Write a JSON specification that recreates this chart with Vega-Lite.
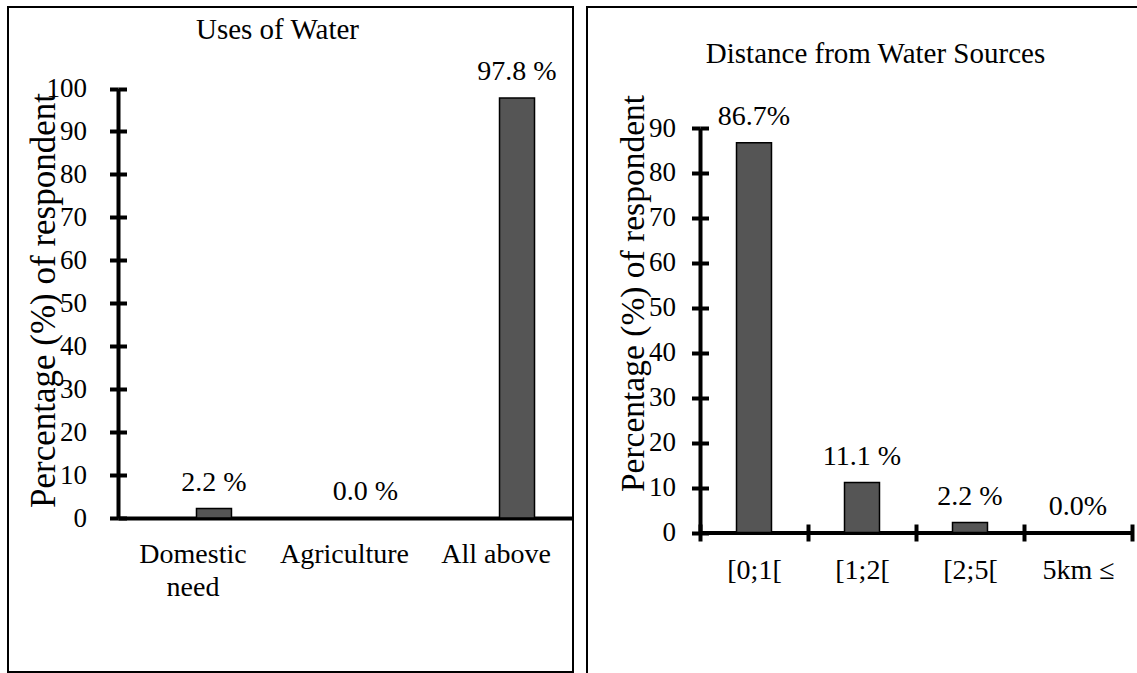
{
  "$schema": "https://vega.github.io/schema/vega-lite/v6.json",
  "padding": {"left": 7, "top": 6, "right": 0, "bottom": 0},
  "background": "white",
  "spacing": 12,
  "config": {
    "view": {"stroke": "black", "strokeWidth": 2},
    "font": "Liberation Serif",
    "text": {"font": "Liberation Serif"},
    "axis": {"labelFont": "Liberation Serif", "titleFont": "Liberation Serif", "labelColor": "black", "titleColor": "black", "domainColor": "black", "tickColor": "black", "grid": false, "titleFontWeight": "normal"},
    "title": {"font": "Liberation Serif", "fontWeight": "normal", "color": "black"}
  },
  "hconcat": [
    {
      "width": 565,
      "height": 665,
      "title": {"text": "Uses of Water", "fontSize": 29, "anchor": "middle", "frame": "group", "baseline": "top", "offset": -37.5, "dx": -13},
      "data": {"values": [
        {"use": "Domestic need", "pct": 2.2, "label": "2.2 %"},
        {"use": "Agriculture", "pct": 0.0, "label": "0.0 %"},
        {"use": "All above", "pct": 97.8, "label": "97.8 %"}
      ]},
      "layer": [
        {
          "mark": {"type": "bar", "fill": "#555555", "stroke": "black", "strokeWidth": 1.5},
          "encoding": {
            "x": {"field": "use", "type": "nominal", "sort": null,
              "scale": {"range": [110, 565], "paddingInner": 0.769, "paddingOuter": 0.386, "align": 0.671},
              "axis": {"orient": "bottom", "offset": -154, "ticks": false, "domainWidth": 4, "labelFont": "Liberation Serif", "labelFontSize": 28, "labelPadding": 22, "labelOffset": -21, "labelAngle": 0, "labelBaseline": "top", "labelLineHeight": 33, "title": null,
                "labelExpr": "datum.value == 'Domestic need' ? ['Domestic', 'need'] : datum.label"}},
            "y": {"field": "pct", "type": "quantitative",
              "scale": {"domain": [0, 100], "range": [511, 81.5], "nice": false, "zero": true},
              "axis": {"orient": "left", "offset": -110, "values": [0, 10, 20, 30, 40, 50, 60, 70, 80, 90, 100], "domainWidth": 4, "tickWidth": 4, "tickSize": 8.5, "labelFont": "Liberation Serif", "labelFontSize": 27, "labelPadding": 23, "labelFlush": false, "labelOverlap": false,
                "title": "Percentage (%) of respondent", "titleFont": "Liberation Serif", "titleFontSize": 35, "titleX": -75, "titleY": 293, "titleAngle": 270, "titleAlign": "center", "titleBaseline": "middle"}}
          }
        },
        {
          "mark": {"type": "text", "dy": -18, "fontSize": 28, "font": "Liberation Serif", "baseline": "alphabetic", "color": "black"},
          "encoding": {
            "x": {"field": "use", "type": "nominal", "sort": null},
            "y": {"field": "pct", "type": "quantitative",
              "axis": {"orient": "right", "offset": -455, "values": [0, 10, 20, 30, 40, 50, 60, 70, 80, 90, 100], "domain": false, "labels": false, "tickWidth": 4, "tickSize": 8.5, "title": null}},
            "text": {"field": "label"}
          }
        }
      ],
      "resolve": {"axis": {"y": "independent"}}
    },
    {
      "width": 553,
      "height": 670,
      "title": {"text": "Distance from Water Sources", "fontSize": 29, "anchor": "middle", "frame": "group", "baseline": "top", "offset": -61.5, "dx": 12},
      "data": {"values": [
        {"dist": "[0;1[", "pct": 86.7, "label": "86.7%"},
        {"dist": "[1;2[", "pct": 11.1, "label": "11.1 %"},
        {"dist": "[2;5[", "pct": 2.2, "label": "2.2 %"},
        {"dist": "5km ≤", "pct": 0.0, "label": "0.0%"}
      ]},
      "layer": [
        {
          "mark": {"type": "bar", "fill": "#555555", "stroke": "black", "strokeWidth": 1.5, "width": {"band": 0.324}},
          "encoding": {
            "x": {"field": "dist", "type": "nominal", "sort": null,
              "scale": {"range": [113, 545], "paddingInner": 0, "paddingOuter": 0},
              "axis": {"orient": "bottom", "offset": -144.5, "tickBand": "extent", "domainWidth": 4, "tickWidth": 4, "tickSize": 8.5, "labelFont": "Liberation Serif", "labelFontSize": 28, "labelPadding": 15.5, "labelAngle": 0, "labelBaseline": "top", "title": null}},
            "y": {"field": "pct", "type": "quantitative",
              "scale": {"domain": [0, 90], "range": [525.5, 121], "nice": false, "zero": true},
              "axis": {"orient": "left", "offset": -113, "values": [0, 10, 20, 30, 40, 50, 60, 70, 80, 90], "domainWidth": 4, "tickWidth": 4, "tickSize": 8.5, "labelFont": "Liberation Serif", "labelFontSize": 27, "labelPadding": 16, "labelFlush": false, "labelOverlap": false,
                "title": "Percentage (%) of respondent", "titleFont": "Liberation Serif", "titleFontSize": 33.5, "titleX": -67, "titleY": 286, "titleAngle": 270, "titleAlign": "center", "titleBaseline": "middle"}}
          }
        },
        {
          "mark": {"type": "text", "dy": -18, "fontSize": 28, "font": "Liberation Serif", "baseline": "alphabetic", "color": "black"},
          "encoding": {
            "x": {"field": "dist", "type": "nominal", "sort": null,
              "axis": {"orient": "top", "offset": -525.5, "tickBand": "extent", "domain": false, "labels": false, "tickWidth": 4, "tickSize": 8.5, "title": null}},
            "y": {"field": "pct", "type": "quantitative",
              "axis": {"orient": "right", "offset": -440, "values": [0, 10, 20, 30, 40, 50, 60, 70, 80, 90], "domain": false, "labels": false, "tickWidth": 4, "tickSize": 8.5, "title": null}},
            "text": {"field": "label"}
          }
        }
      ],
      "resolve": {"axis": {"x": "independent", "y": "independent"}}
    }
  ]
}
